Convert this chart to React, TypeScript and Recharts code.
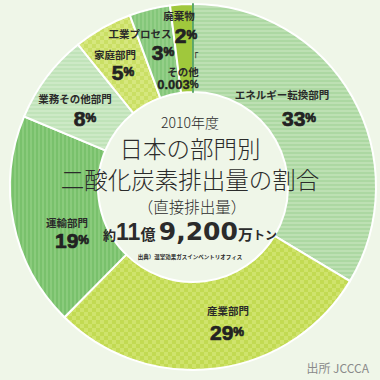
import React from "react";
import { PieChart, Pie, Cell } from "recharts";

// sector shares (clockwise from 12 o'clock)
const sectors = [
  "エネルギー転換部門",
  "産業部門",
  "運輸部門",
  "業務その他部門",
  "家庭部門",
  "工業プロセス",
  "廃棄物",
  "その他",
];
const shares = [33.6, 28.8, 18.9, 7.9, 5.2, 3.6, 2.0, 0.003];
const shareLabels = ["33", "29", "19", "8", "5", "3", "2", "0.003"];

const data = sectors.map((name, i) => ({ name, value: shares[i] }));

const fills = [
  "url(#stripeH)",
  "url(#checkA)",
  "url(#stripeV)",
  "url(#stripeH2)",
  "url(#checkB)",
  "url(#stripeV2)",
  "#a0c83c",
  "#2f8f3f",
];

const BG = "#eff6e8";
const CX = 193;
const CY = 187;

// where each label block sits, relative to the ring centre: [name x, name y, pct x, pct y]
const labelSpots: number[][] = [
  [89, -93, 106, -69],
  [35, 123, 34, 145],
  [-126, 35, -121, 53],
  [-118, -89, -108, -69],
  [-78, -133, -70, -115],
  [-53, -154, -30, -135],
  [-14, -172, -7, -152],
  [-10, -116, -15, -103],
];

const jp = "'Noto Sans CJK JP', sans-serif";
const num = "'Liberation Sans Narrow', 'Liberation Sans', Arial, sans-serif";

const renderLabel = (props: any) => {
  const { cx, cy, index } = props;
  const [nx, ny, px, py] = labelSpots[index];
  const small = index === 7;
  return (
    <g key={`lbl-${index}`}>
      {small && (
        <text x={cx + 1} y={cy - 131} fontFamily={jp} fontSize={9} fill="#222" textAnchor="middle" dominantBaseline="central">
          「
        </text>
      )}
      <text
        x={cx + nx}
        y={cy + ny}
        fontFamily={jp}
        fontSize={10.5}
        fontWeight={700}
        fill="#2a2a2a"
        textAnchor="middle"
        dominantBaseline="central"
      >
        {sectors[index]}
      </text>
      <text
        x={cx + px}
        y={cy + py}
        fontFamily={num}
        fontWeight={700}
        fill="#222"
        stroke="#222"
        strokeWidth={small ? 0.3 : 0.7}
        textAnchor="middle"
        dominantBaseline="central"
      >
        <tspan fontSize={small ? 13 : 21}>{shareLabels[index]}</tspan>
        <tspan fontSize={small ? 10 : 12}>%</tspan>
      </text>
    </g>
  );
};

const App = () => {
  return (
    <div style={{ position: "absolute", left: 0, top: 0, width: 380, height: 380, background: BG }}>
      <PieChart width={380} height={380} margin={{ top: 0, right: 0, bottom: 0, left: 0 }}>
        <defs>
          <pattern id="stripeH" width="4" height="4" patternUnits="userSpaceOnUse">
            <rect width="4" height="4" fill="#bde0b3" />
            <rect width="4" height="2" fill="#acd8a2" />
          </pattern>
          <pattern id="stripeH2" width="4" height="4" patternUnits="userSpaceOnUse">
            <rect width="4" height="4" fill="#cde9c6" />
            <rect width="4" height="2" fill="#c0e3b9" />
          </pattern>
          <pattern id="stripeV" width="4" height="4" patternUnits="userSpaceOnUse">
            <rect width="4" height="4" fill="#8acb7c" />
            <rect width="2" height="4" fill="#79c16c" />
          </pattern>
          <pattern id="stripeV2" width="4" height="4" patternUnits="userSpaceOnUse">
            <rect width="4" height="4" fill="#94cf88" />
            <rect width="2" height="4" fill="#84c77a" />
          </pattern>
          <pattern id="checkA" width="8" height="8" patternUnits="userSpaceOnUse">
            <rect width="8" height="8" fill="#cfe36c" />
            <rect width="4" height="4" fill="#c2da52" />
            <rect x="4" y="4" width="4" height="4" fill="#c2da52" />
          </pattern>
          <pattern id="checkB" width="8" height="8" patternUnits="userSpaceOnUse">
            <rect width="8" height="8" fill="#d6e77e" />
            <rect width="4" height="4" fill="#cadf64" />
            <rect x="4" y="4" width="4" height="4" fill="#cadf64" />
          </pattern>
        </defs>
        <Pie
          data={data}
          dataKey="value"
          nameKey="name"
          cx={CX}
          cy={CY}
          innerRadius={95}
          outerRadius={183}
          startAngle={90}
          endAngle={-270}
          stroke="#ffffff"
          strokeWidth={2}
          label={renderLabel}
          labelLine={false}
          isAnimationActive={false}
        >
          {data.map((d, i) => (
            <Cell
              key={d.name}
              fill={fills[i]}
              stroke={i === 7 ? "#2f8f3f" : "#ffffff"}
              strokeWidth={i === 7 ? 1.5 : 2}
            />
          ))}
        </Pie>
      </PieChart>
      {/* title block sits over the ring */}
      <svg
        width={380}
        height={380}
        style={{ position: "absolute", left: 0, top: 0, pointerEvents: "none" }}
      >
        <g fontFamily={jp} fill="#2b2b2b" textAnchor="middle">
          <text x={190} y={128} fontSize={14} fontWeight={300}>
            2010年度
          </text>
          <text x={190} y={158} fontSize={23.5} fontWeight={300}>
            日本の部門別
          </text>
          <text x={190} y={189} fontSize={23.5} fontWeight={300}>
            二酸化炭素排出量の割合
          </text>
          <text x={192} y={213} fontSize={15.5} fontWeight={300}>
            （直接排出量）
          </text>
          <text x={190} y={240} fontWeight={700}>
            <tspan fontSize={13}>約</tspan>
            <tspan fontSize={23} fontFamily={num}>11</tspan>
            <tspan fontSize={15}>億 </tspan>
            <tspan fontSize={25} fontFamily="'DejaVu Sans', sans-serif">9,200</tspan>
            <tspan fontSize={15}>万</tspan>
            <tspan fontSize={12}>トン</tspan>
          </text>
          <text x={190} y={259} fontSize={5.5} fontWeight={700}>
            出典）温室効果ガスインベントリオフィス
          </text>
          <text x={369} y={373} fontSize={12} fontWeight={400} fill="#8a8a8a" textAnchor="end">
            出所 JCCCA
          </text>
        </g>
      </svg>
    </div>
  );
};

export default App;
